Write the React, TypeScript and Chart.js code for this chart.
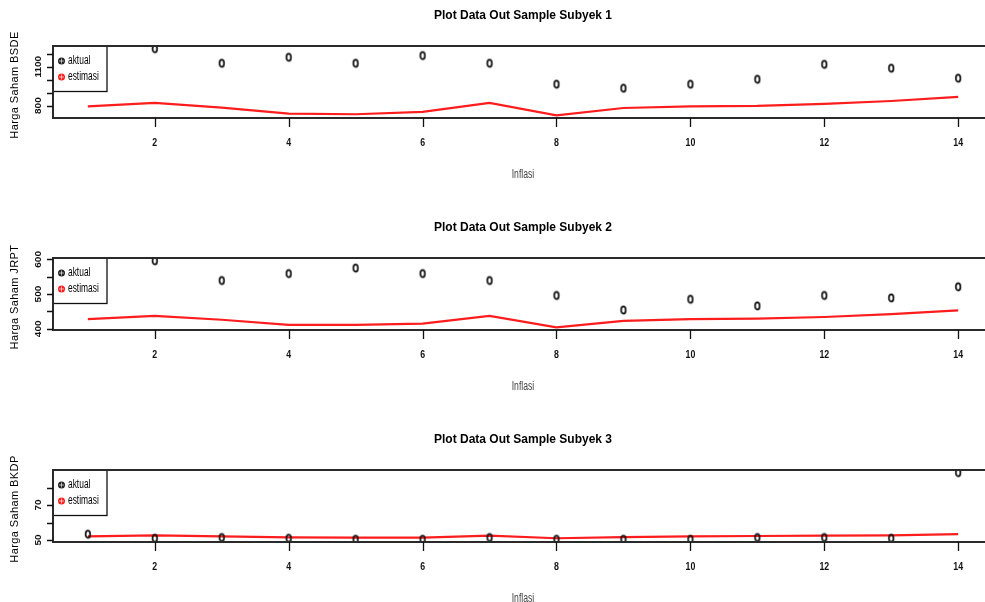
import { useEffect, useRef } from "react";
import { Chart, registerables } from "chart.js";

Chart.register(...registerables);

// ---------- data ----------
const xValues = [1, 2, 3, 4, 5, 6, 7, 8, 9, 10, 11, 12, 13, 14];
const xTickValues = [2, 4, 6, 8, 10, 12, 14];

const aktual1 = [1150, 1238, 1126, 1172, 1126, 1185, 1126, 965, 934, 965, 1003, 1118, 1088, 1011];
const estimasi1 = [795, 821, 785, 739, 734, 752, 821, 726, 782, 795, 798, 813, 836, 867];

const aktual2 = [560, 596, 539, 559, 575, 559, 539, 496, 454, 485, 466, 496, 489, 521];
const estimasi2 = [428, 437, 426, 411, 411, 415, 437, 404, 423, 428, 429, 434, 442, 453];

const aktual3 = [53.3, 51.0, 51.4, 51.0, 50.4, 50.4, 51.4, 50.4, 50.4, 50.4, 51.4, 51.4, 51.0, 88.5];
const estimasi3 = [52.1, 52.7, 52.1, 51.5, 51.35, 51.35, 52.5, 51.0, 51.7, 52.1, 52.3, 52.5, 52.7, 53.4];

const yTicks1 = [800, 900, 1000, 1100, 1200];
const yLabels1 = [800, 1100];
const yTicks2 = [400, 450, 500, 550, 600];
const yLabels2 = [400, 500, 600];
const yTicks3 = [50, 60, 70, 80];
const yLabels3 = [50, 70];

const titles = [
  "Plot Data Out Sample Subyek 1",
  "Plot Data Out Sample Subyek 2",
  "Plot Data Out Sample Subyek 3",
];
const yTitles = ["Harga Saham BSDE", "Harga Saham JRPT", "Harga Saham BKDP"];
const xTitle = "Inflasi";
const legendLabels = ["aktual", "estimasi"];

const panels = [
  { title: titles[0], yTitle: yTitles[0], aktual: aktual1, estimasi: estimasi1, yMin: 705, yMax: 1259, yTicks: yTicks1, yLabels: yLabels1 },
  { title: titles[1], yTitle: yTitles[1], aktual: aktual2, estimasi: estimasi2, yMin: 396.5, yMax: 604, yTicks: yTicks2, yLabels: yLabels2 },
  { title: titles[2], yTitle: yTitles[2], aktual: aktual3, estimasi: estimasi3, yMin: 48.86, yMax: 90, yTicks: yTicks3, yLabels: yLabels3 },
];

const PANEL_TOPS = [0, 212, 424];
const CW = 1000;
const CH = 200;
const BOX_TOP = 46;
const BOX_BOTTOM = 118;
const BOX_LEFT = 53;
const BOX_RIGHT = 993;

const FONT = '"Liberation Sans", Arial, sans-serif';
const RED = "rgb(255,28,28)";
const FRAME = "#2a2a2a";

function drawText(
  ctx: CanvasRenderingContext2D,
  s: string,
  x: number,
  y: number,
  font: string,
  color: string,
  sx = 1,
  rotate = 0,
  align: CanvasTextAlign = "center",
  spacing = "0px"
) {
  ctx.save();
  ctx.translate(x, y);
  ctx.scale(sx, 1);
  if (rotate) ctx.rotate(rotate);
  ctx.font = font;
  ctx.fillStyle = color;
  ctx.textAlign = align;
  ctx.textBaseline = "middle";
  (ctx as any).letterSpacing = spacing;
  ctx.fillText(s, 0, 0);
  ctx.restore();
}

function makeEllipse(): HTMLCanvasElement {
  const c = document.createElement("canvas");
  c.width = 10;
  c.height = 12;
  const g = c.getContext("2d")!;
  g.strokeStyle = "#111";
  g.lineWidth = 1.7;
  g.beginPath();
  g.ellipse(5, 6, 2.3, 3.7, 0, 0, Math.PI * 2);
  g.stroke();
  return c;
}

function legendSymbol(ctx: CanvasRenderingContext2D, x: number, y: number, color: string) {
  ctx.save();
  ctx.fillStyle = color;
  ctx.beginPath();
  ctx.arc(x, y, 3.5, 0, Math.PI * 2);
  ctx.fill();
  ctx.strokeStyle = "rgba(255,255,255,0.8)";
  ctx.lineWidth = 0.8;
  ctx.beginPath();
  ctx.moveTo(x - 2.5, y);
  ctx.lineTo(x + 2.5, y);
  ctx.moveTo(x, y - 2.5);
  ctx.lineTo(x, y + 2.5);
  ctx.stroke();
  ctx.restore();
}

function Panel({ index }: { index: number }) {
  const ref = useRef<HTMLCanvasElement>(null);
  const p = panels[index];

  useEffect(() => {
    if (!ref.current) return;
    const ellipse = makeEllipse();

    const framePlugin = {
      id: "rframe" + index,
      afterDraw(chart: any) {
        const ctx: CanvasRenderingContext2D = chart.ctx;
        const { left, right, top, bottom } = chart.chartArea;
        const xs = chart.scales.x;
        const ys = chart.scales.y;
        const cx = (left + right) / 2;

        // legend box (white, covers first point)
        ctx.save();
        ctx.fillStyle = "#fff";
        ctx.fillRect(left, top, 107 - left, 91.5 - top);
        ctx.strokeStyle = "#111";
        ctx.lineWidth = 1.3;
        ctx.strokeRect(left, top, 107 - left, 91.5 - top);
        ctx.restore();
        legendSymbol(ctx, 61.5, 61, "#222");
        legendSymbol(ctx, 61.5, 77, RED);
        drawText(ctx, legendLabels[0], 68, 61, `12px ${FONT}`, "#000", 0.7, 0, "left");
        drawText(ctx, legendLabels[1], 68, 77, `12px ${FONT}`, "#000", 0.7, 0, "left");

        // frame
        ctx.save();
        ctx.strokeStyle = FRAME;
        ctx.lineWidth = 2;
        ctx.strokeRect(left, top, right - left, bottom - top);

        // y ticks
        ctx.lineWidth = 1.3;
        ctx.strokeStyle = "#111";
        ctx.beginPath();
        for (const v of p.yTicks) {
          const y = Math.round(ys.getPixelForValue(v)) + 0.5;
          ctx.moveTo(left - 6, y);
          ctx.lineTo(left, y);
        }
        // x ticks
        for (const v of xTickValues) {
          const x = Math.round(xs.getPixelForValue(v)) + 0.5;
          ctx.moveTo(x, bottom);
          ctx.lineTo(x, bottom + 9);
        }
        ctx.stroke();
        ctx.restore();

        for (const v of p.yLabels) {
          const y = ys.getPixelForValue(v);
          drawText(ctx, String(v), 39, y, `bold 10px ${FONT}`, "#111", 0.9, -Math.PI / 2);
        }
        for (const v of xTickValues) {
          const x = xs.getPixelForValue(v);
          drawText(ctx, String(v), x, 143, `bold 11px ${FONT}`, "#111", 0.8);
        }

        // titles
        drawText(ctx, p.title, cx, 16, `bold 12px ${FONT}`, "#000");
        drawText(ctx, xTitle, cx, 175, `12px ${FONT}`, "#444", 0.72);
        drawText(ctx, p.yTitle, 15, 85, `11px ${FONT}`, "#000", 1, -Math.PI / 2, "center", "0.4px");
      },
    };

    const chart = new Chart(ref.current, {
      type: "line",
      data: {
        datasets: [
          {
            label: legendLabels[0],
            data: xValues.map((x, i) => ({ x, y: p.aktual[i] })),
            showLine: false,
            pointStyle: ellipse as any,
            pointRadius: 4,
            borderColor: "#111",
            backgroundColor: "#111",
          },
          {
            label: legendLabels[1],
            data: xValues.map((x, i) => ({ x, y: p.estimasi[i] })),
            borderColor: RED,
            borderWidth: 2.2,
            pointRadius: 0,
            tension: 0,
            fill: false,
          },
        ],
      },
      options: {
        responsive: false,
        maintainAspectRatio: false,
        animation: false,
        events: [],
        layout: { padding: { left: 0, top: BOX_TOP, right: CW - BOX_RIGHT, bottom: 0 } },
        plugins: {
          legend: { display: false },
          title: { display: false },
          tooltip: { enabled: false },
        },
        scales: {
          x: {
            type: "linear",
            min: 0.48,
            max: 14.52,
            grid: { display: false },
            border: { display: false },
            ticks: { display: false },
            afterFit: (s: any) => {
              s.height = CH - BOX_BOTTOM;
            },
          },
          y: {
            type: "linear",
            min: p.yMin,
            max: p.yMax,
            grid: { display: false },
            border: { display: false },
            ticks: { display: false },
            afterFit: (s: any) => {
              s.width = BOX_LEFT;
            },
          },
        },
      },
      plugins: [framePlugin],
    });
    return () => chart.destroy();
  }, [index]);

  return (
    <canvas
      ref={ref}
      width={CW}
      height={CH}
      style={{ position: "absolute", left: 0, top: PANEL_TOPS[index], width: CW, height: CH, display: "block" }}
    />
  );
}

export default function App() {
  return (
    <div
      style={{
        position: "fixed",
        left: 0,
        top: 0,
        width: 985,
        height: 602,
        overflow: "hidden",
        background: "#fff",
      }}
    >
      <Panel index={0} />
      <Panel index={1} />
      <Panel index={2} />
    </div>
  );
}
